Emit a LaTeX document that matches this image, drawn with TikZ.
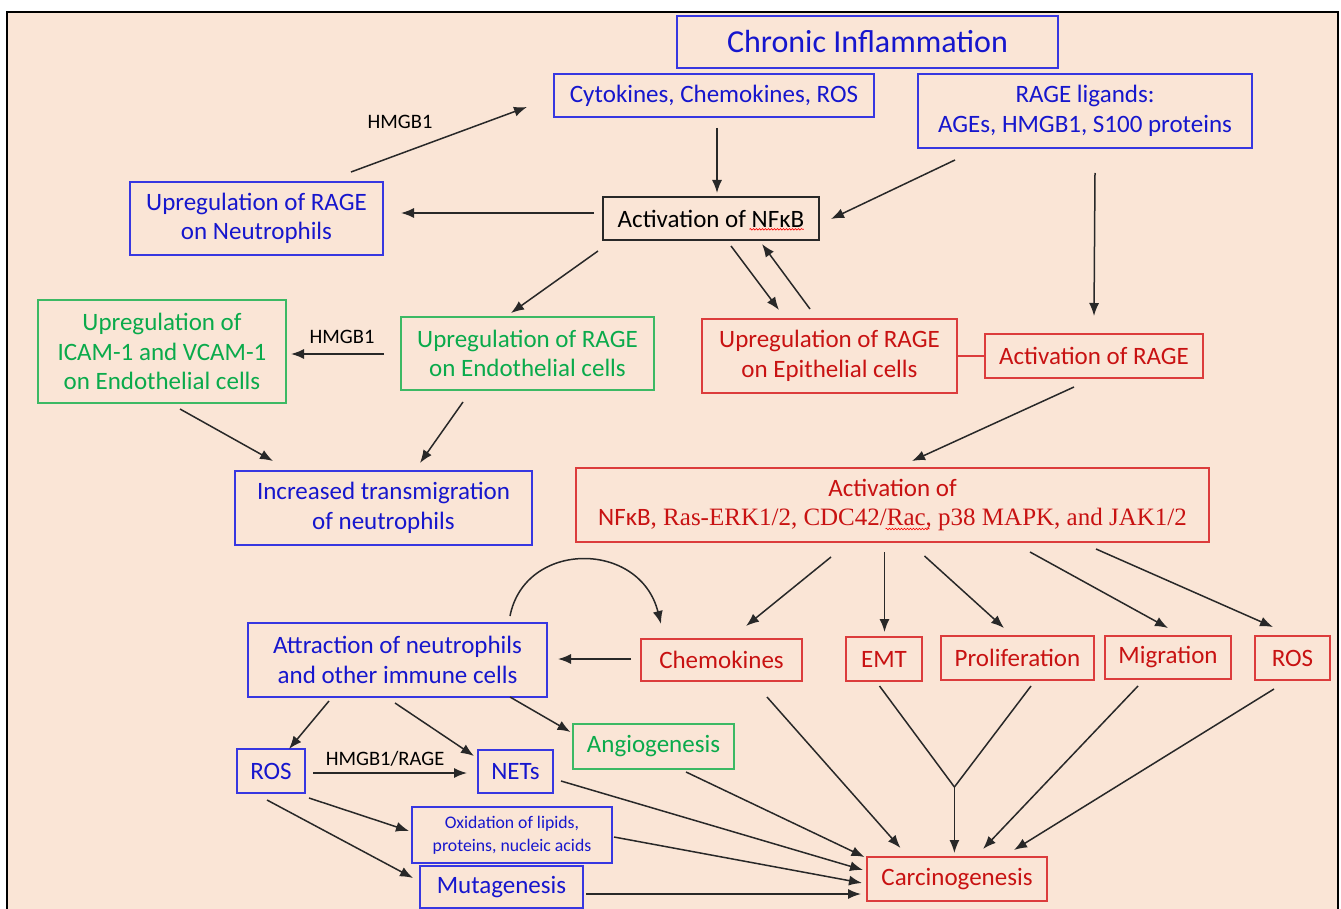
\documentclass[tikz,border=0pt]{standalone}
\usepackage{fontspec}
\setmainfont{Carlito}
\newfontfamily\tnr{Liberation Serif}
\usetikzlibrary{arrows.meta,calc,decorations.pathmorphing}
\definecolor{bgc}{RGB}{250,229,214}
\definecolor{bluetx}{RGB}{22,22,205}
\definecolor{bluebd}{RGB}{55,55,225}
\definecolor{redtx}{RGB}{200,18,18}
\definecolor{redbd}{RGB}{220,60,60}
\definecolor{greentx}{RGB}{10,170,75}
\definecolor{greenbd}{RGB}{60,185,100}
\definecolor{linec}{RGB}{40,40,40}
\newcommand{\mybox}[7]{\node[#2,minimum width={#5-#3},minimum height={#6-#4}] (#1) at ({(#3+#5)/2},{(#4+#6)/2}) {#7};}
\begin{document}
\begin{tikzpicture}[x=1pt,y=-1pt,
  box/.style={draw,line width=1.5pt,inner sep=0pt,outer sep=0pt,align=center,font=\fontsize{25}{29.5}\selectfont},
  bluebox/.style={box,draw=bluebd,text=bluetx},
  redbox/.style={box,draw=redbd,text=redtx},
  greenbox/.style={box,draw=greenbd,text=greentx},
  blackbox/.style={box,draw=linec,text=black},
  arr/.style={line width=1.5pt,draw=linec,-{Latex[length=13pt,width=10pt]}},
  plain/.style={line width=1.5pt,draw=linec},
  lbl/.style={font=\fontsize{20.5}{24}\selectfont,text=black,inner sep=0pt},
  squig/.style={draw=red,line width=0.6pt,decorate,decoration={snake,segment length=3pt,amplitude=0.8pt}}]
\useasboundingbox (0,0) rectangle (1341,909);
\fill[white] (0,0) rectangle (1341,909);
\fill[bgc] (7,12) rectangle (1338,909);
\draw[line width=2pt,black] (7,909) -- (7,12) -- (1338,12) -- (1338,909);

% boxes
\mybox{title}{bluebox,font=\fontsize{32}{38}\selectfont}{677}{16}{1058}{68}{Chronic Inflammation}
\mybox{cyt}{bluebox}{554}{74}{874}{117}{Cytokines, Chemokines, ROS}
\mybox{lig}{bluebox}{918}{74}{1252}{148}{RAGE ligands:\\AGEs, HMGB1, S100 proteins}
\mybox{neut}{bluebox}{130}{182}{383}{255}{Upregulation of RAGE\\on Neutrophils}
\mybox{nfkb}{blackbox}{603}{197}{819}{240}{Activation of NFκB}
\mybox{icam}{greenbox}{38}{300}{286}{403}{Upregulation of\\ICAM-1 and VCAM-1\\on Endothelial cells}
\mybox{endo}{greenbox}{401}{317}{654}{390}{Upregulation of RAGE\\on Endothelial cells}
\mybox{trans}{bluebox}{235}{471}{532}{545}{Increased transmigration\\of neutrophils}
\mybox{epi}{redbox}{702}{319}{957}{393}{Upregulation of RAGE\\on Epithelial cells}
\mybox{arage}{redbox}{985}{334}{1203}{378}{Activation of RAGE}
\mybox{act}{redbox}{576}{468}{1209}{542}{Activation of\\NFκB{\tnr, Ras-ERK1/2, CDC42/Rac, p38 MAPK, and JAK1/2}}
\mybox{attr}{bluebox}{248}{623}{547}{697}{Attraction of neutrophils\\and other immune cells}
\mybox{chem}{redbox}{641}{639}{802}{681}{Chemokines}
\mybox{emt}{redbox}{846}{637}{922}{681}{EMT}
\mybox{prol}{redbox}{941}{636}{1094}{680}{Proliferation}
\mybox{migr}{redbox}{1105}{636}{1231}{679}{Migration}
\mybox{rosr}{redbox}{1255}{636}{1330}{680}{ROS}
\mybox{rosl}{bluebox}{237}{749}{305}{793}{ROS}
\mybox{nets}{bluebox}{478}{750}{553}{793}{NETs}
\mybox{angio}{greenbox}{573}{724}{734}{769}{Angiogenesis}
\mybox{oxid}{bluebox,font=\fontsize{17.7}{23}\selectfont}{412}{807}{612}{863}{Oxidation of lipids,\\proteins, nucleic acids}
\mybox{mut}{bluebox}{420}{866}{583}{908}{Mutagenesis}
\mybox{carc}{redbox}{867}{857}{1047}{901}{Carcinogenesis}

% spell-check squiggles
\draw[squig] ($(nfkb.north west)+(146.5,32.3)$) -- ($(nfkb.north west)+(200.8,32.3)$);
\draw[squig] ($(act.north west)+(309.5,61)$) -- ($(act.north west)+(353.4,61)$);

% labels
\node[lbl] (l1) at (400,122) {HMGB1};
\node[lbl] (l2) at (342,337) {HMGB1};
\node[lbl] (l3) at (385,759) {HMGB1/RAGE};

% connectors
\draw[arr] ($(neut.north west)+(221,-10)$) -- ($(cyt.north west)+(-27,33)$);
\draw[arr] ($(cyt.north west)+(163,54)$) -- ($(nfkb.north west)+(114,-4)$);
\draw[arr] ($(lig.north west)+(37,86)$) -- ($(nfkb.north west)+(228,22)$);
\draw[arr] ($(nfkb.north west)+(-9,16)$) -- ($(neut.north west)+(271,31)$);
\draw[arr] ($(nfkb.north west)+(-5,54)$) -- ($(endo.north west)+(110,-4)$);
\draw[arr] ($(nfkb.north west)+(128,49)$) -- ($(epi.north west)+(77,-9)$);
\draw[arr] ($(epi.north west)+(108,-10)$) -- ($(nfkb.north west)+(159,47)$);
\draw[arr] ($(lig.north west)+(177,99)$) -- ($(arage.north west)+(109,-18)$);
\draw[line width=1.5pt,draw=redbd] (epi.east) -- (arage.west);
\draw[arr] ($(endo.north west)+(-17,37)$) -- ($(icam.north west)+(253,54)$);
\draw[arr] ($(icam.north west)+(142,109)$) -- ($(trans.north west)+(38,-10)$);
\draw[arr] ($(endo.north west)+(62,85)$) -- ($(trans.north west)+(185,-8)$);
\draw[arr] ($(arage.north west)+(89,53)$) -- ($(act.north west)+(336,-7)$);
\draw[arr] ($(act.north west)+(255,89)$) -- ($(chem.north west)+(105,-13)$);
\draw[arr] ($(act.north west)+(308.5,84)$) -- ($(emt.north west)+(38.5,-5)$);
\draw[arr] ($(act.north west)+(348.5,88)$) -- ($(prol.north west)+(63,-8)$);
\draw[arr] ($(act.north west)+(454,84)$) -- ($(migr.north west)+(63,-8)$);
\draw[arr] ($(act.north west)+(520,81)$) -- ($(rosr.north west)+(18,-9)$);
\draw[arr] ($(attr.north west)+(262,-7)$) .. controls ($(attr.north west)+(277,-83)$) and ($(chem.north west)+(-1,-99)$) .. ($(chem.north west)+(20,-15)$);
\draw[arr] ($(chem.north west)+(-10,20)$) -- ($(attr.north west)+(310,36)$);
\draw[arr] ($(attr.north west)+(81,78)$) -- ($(rosl.north west)+(52,0)$);
\draw[arr] ($(attr.north west)+(147,80)$) -- ($(nets.north west)+(-4,6)$);
\draw[arr] ($(attr.north west)+(262,74)$) -- ($(angio.north west)+(-2.5,8)$);
\draw[arr] ($(rosl.north west)+(76,24)$) -- ($(nets.north west)+(-11,23)$);
\draw[arr] ($(rosl.north west)+(72,49)$) -- ($(oxid.north west)+(-3,24)$);
\draw[arr] ($(rosl.north west)+(30,51)$) -- ($(mut.north west)+(-7,12)$);
\draw[arr] ($(nets.north west)+(83,31)$) -- ($(carc.north west)+(-4,13)$);
\draw[arr] ($(oxid.north west)+(202,30)$) -- ($(carc.north west)+(-5,26)$);
\draw[arr] ($(mut.north west)+(166,28)$) -- ($(carc.north west)+(-6,37)$);
\draw[arr] ($(angio.north west)+(113,48)$) -- ($(carc.north west)+(-2.5,0)$);
\draw[arr] ($(chem.north west)+(126,58)$) -- ($(carc.north west)+(33.5,-9)$);
\coordinate (jn) at ($(carc.north west)+(87.4,-70)$);
\draw[plain] ($(emt.north west)+(33.5,49)$) -- (jn);
\draw[plain] ($(prol.north west)+(90,50)$) -- (jn);
\draw[arr] (jn) -- ($(carc.north west)+(87.4,-4)$);
\draw[arr] ($(migr.north west)+(33,50)$) -- ($(carc.north west)+(116,-8)$);
\draw[arr] ($(rosr.north west)+(19,53)$) -- ($(carc.north west)+(147,-7)$);
\end{tikzpicture}
\end{document}
